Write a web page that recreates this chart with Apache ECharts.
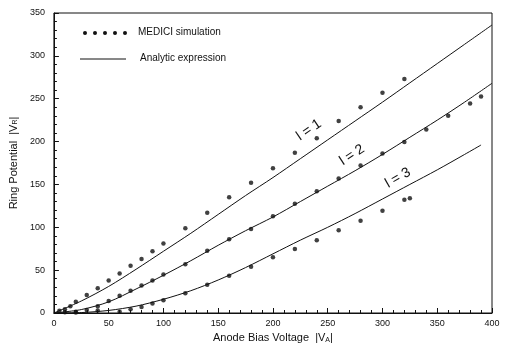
<!DOCTYPE html>
<html>
<head>
<meta charset="utf-8">
<script src="https://cdn.jsdelivr.net/npm/echarts@6/dist/echarts.min.js"></script>
<style>
  html, body { margin: 0; padding: 0; background: #fff; }
  #chart { width: 505px; height: 349px; }
</style>
</head>
<body>
<div id="chart"></div>
<script>
// MEDICI simulation points, one array pair per ring
var simX1 = [5, 10, 15, 20, 30, 40, 50, 60, 70, 80, 90, 100, 120, 140, 160, 180, 200, 220, 240, 260, 280, 300, 320];
var simL1 = [2.7, 4.5, 8, 13, 21, 29, 38, 46, 55, 63, 72, 81, 99, 117, 135, 152, 169, 187, 204, 224, 240, 257, 273];

var simX2 = [10, 20, 30, 40, 50, 60, 70, 80, 90, 100, 120, 140, 160, 180, 200, 220, 240, 260, 280, 300, 320, 340, 360, 380, 390];
var simL2 = [1, 1.5, 3.5, 8, 14, 20, 26, 32, 38, 45, 57, 72.7, 86, 98, 113, 127.5, 142, 157, 172, 186, 199.5, 214, 230, 244.5, 252.5];

var simX3 = [20, 40, 60, 70, 80, 90, 100, 120, 140, 160, 180, 200, 220, 240, 260, 280, 300, 320, 325];
var simL3 = [0.5, 3, 1.5, 4.5, 7, 11, 15, 23, 33, 43.6, 54, 65, 74.7, 85, 96.5, 107.7, 119.4, 132, 134];

// analytic expression
var lineX = [0, 25, 50, 75, 100, 125, 150, 175, 200, 225, 250, 275, 300, 325, 350, 375, 400];
var line1 = [0, 14, 31, 51, 72, 93, 115, 137, 158, 180, 202, 224, 246, 268.5, 291, 313.5, 336];
var line2 = [0, 4, 13, 28, 44, 61, 79, 96, 112, 130, 148, 166, 185, 205, 225, 246, 268];
var lineX3 = [0, 25, 50, 75, 100, 125, 150, 175, 200, 225, 250, 275, 300, 325, 350, 375, 390];
var line3 = [0, 0.5, 3, 8, 16, 26, 38.5, 53, 69, 85, 100, 116, 133, 150, 167, 185, 196];

var xTicks = [0, 50, 100, 150, 200, 250, 300, 350, 400];
var yTicks = [0, 50, 100, 150, 200, 250, 300, 350];

function pairs(xs, ys) {
  return xs.map(function (x, i) { return [x, ys[i]]; });
}

var chart = echarts.init(document.getElementById('chart'), null, { renderer: 'canvas' });

var font = 'Liberation Sans';

function simSeries(xs, ys) {
  return {
    type: 'scatter',
    data: pairs(xs, ys),
    symbol: 'circle',
    symbolSize: 4.5,
    itemStyle: { color: '#111' },
    silent: true
  };
}

function lineSeries(xs, ys) {
  return {
    type: 'line',
    data: pairs(xs, ys),
    smooth: 0.3,
    showSymbol: false,
    lineStyle: { color: '#111', width: 1 },
    silent: true
  };
}

var option = {
  backgroundColor: '#fff',
  animation: false,
  grid: {
    left: 52, right: 13, top: 13, bottom: 36,
    show: true, borderColor: '#111', borderWidth: 1, backgroundColor: 'transparent'
  },
  xAxis: {
    type: 'value',
    min: xTicks[0],
    max: xTicks[xTicks.length - 1],
    interval: 50,
    name: 'Anode Bias Voltage  |V{s|A}|',
    nameLocation: 'middle',
    nameGap: 19,
    nameTextStyle: {
      fontFamily: font, fontSize: 11, color: '#111',
      rich: { s: { fontSize: 7, fontFamily: font, color: '#111', verticalAlign: 'bottom' } }
    },
    axisLine: { lineStyle: { color: '#111', width: 1 } },
    axisTick: { inside: true, length: 5, lineStyle: { color: '#111' } },
    minorTick: { show: true, splitNumber: 5, length: 3, lineStyle: { color: '#111' } },
    splitLine: { show: false },
    axisLabel: { fontFamily: font, fontSize: 9, color: '#111', margin: 6 }
  },
  yAxis: {
    type: 'value',
    min: yTicks[0],
    max: yTicks[yTicks.length - 1],
    interval: 50,
    name: 'Ring Potential  |V{s|R}|',
    nameLocation: 'middle',
    nameGap: 34,
    nameTextStyle: {
      fontFamily: font, fontSize: 11, color: '#111',
      rich: { s: { fontSize: 7, fontFamily: font, color: '#111', verticalAlign: 'bottom' } }
    },
    axisLine: { lineStyle: { color: '#111', width: 1 } },
    axisTick: { inside: true, length: 5, lineStyle: { color: '#111' } },
    minorTick: { show: true, splitNumber: 5, length: 3, lineStyle: { color: '#111' } },
    splitLine: { show: false },
    axisLabel: { fontFamily: font, fontSize: 9, color: '#111', margin: 9 }
  },
  series: [
    lineSeries(lineX, line1),
    lineSeries(lineX, line2),
    lineSeries(lineX3, line3),
    simSeries(simX1, simL1),
    simSeries(simX2, simL2),
    simSeries(simX3, simL3)
  ],
  graphic: [
    // legend
    { type: 'circle', shape: { cx: 85, cy: 33, r: 2 }, style: { fill: '#111' } },
    { type: 'circle', shape: { cx: 95, cy: 33, r: 2 }, style: { fill: '#111' } },
    { type: 'circle', shape: { cx: 105, cy: 33, r: 2 }, style: { fill: '#111' } },
    { type: 'circle', shape: { cx: 115, cy: 33, r: 2 }, style: { fill: '#111' } },
    { type: 'circle', shape: { cx: 125, cy: 33, r: 2 }, style: { fill: '#111' } },
    { type: 'text', left: 138, top: 27, style: { text: 'MEDICI simulation', font: '10px ' + font, fill: '#111' } },
    { type: 'line', shape: { x1: 80, y1: 59, x2: 126, y2: 59 }, style: { stroke: '#111', lineWidth: 1 } },
    { type: 'text', left: 140, top: 53, style: { text: 'Analytic expression', font: '10px ' + font, fill: '#111' } },
    // curve labels
    { type: 'text', x: 309, y: 130, rotation: 0.6, style: { text: 'l = 1', font: '14px ' + font, fill: '#111', align: 'center', verticalAlign: 'middle' } },
    { type: 'text', x: 352, y: 155, rotation: 0.58, style: { text: 'l = 2', font: '14px ' + font, fill: '#111', align: 'center', verticalAlign: 'middle' } },
    { type: 'text', x: 398, y: 178, rotation: 0.52, style: { text: 'l = 3', font: '14px ' + font, fill: '#111', align: 'center', verticalAlign: 'middle' } }
  ]
};

chart.setOption(option);
</script>
</body>
</html>
